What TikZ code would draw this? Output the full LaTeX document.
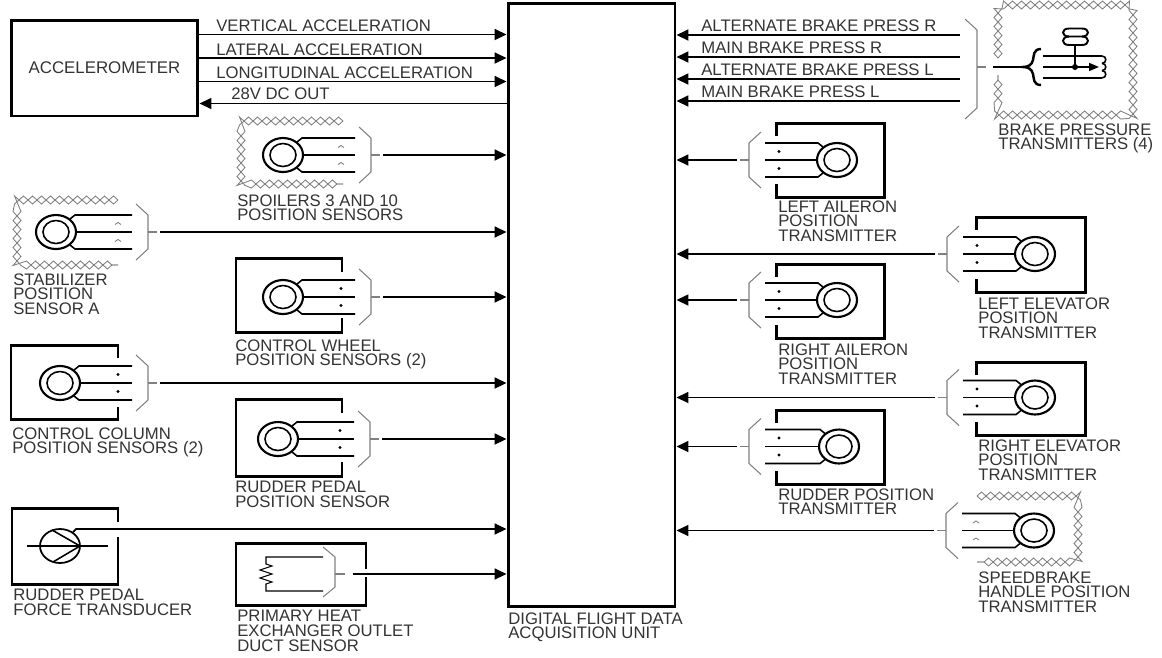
\documentclass[tikz,border=0pt]{standalone}
\usepackage{fontspec}
\setmainfont{Liberation Sans}
\usetikzlibrary{arrows.meta,decorations.pathmorphing}
\tikzset{
  lbl/.style={anchor=north west,inner sep=0pt,align=left,text=black!80,font=\fontsize{9.5}{8.5}\selectfont},
  sig/.style={line width=1pt,-{Triangle[length=0.24cm,width=0.22cm]}},
  wire/.style={line width=0.9pt},
  encl/.style={line width=1.7pt},
  brk/.style={gray,line width=0.6pt},
  chain/.style={
    postaction={draw=gray,line width=0.5pt,decorate,decoration={zigzag,segment length=0.36cm,amplitude=0.08cm}},
    postaction={draw=gray,line width=0.5pt,decorate,decoration={zigzag,segment length=0.36cm,amplitude=0.08cm,mirror}}},
  pics/sensor/.style={code={
    \draw[line width=1.2pt] (0,0) ellipse (20 and 17);
    \draw[line width=0.9pt] (0,0) ellipse (13 and 11.5);
    \draw[wire] (14,-13) -- (19,-17) -- (72+#1,-17);
    \draw[wire] (20,0) -- (72+#1,0);
    \draw[wire] (14,13) -- (19,17) -- (72+#1,17);
    \draw[brk] (76+#1,-28) -- (88+#1,-17) -- (88+#1,17) -- (76+#1,28);
    \draw[brk] (88+#1,0) -- (97+#1,0);
    \coordinate (-end) at (100+#1,0);
  }},
  pics/dots/.style={code={
    \fill (58+#1,-8.5) circle (1.7);
    \fill (58+#1,8.5) circle (1.7);
  }},
  pics/hats/.style={code={
    \draw[gray,line width=0.5pt] (55+#1,-7.5) -- (58+#1,-9.5) -- (61+#1,-7.5);
    \draw[gray,line width=0.5pt] (55+#1,9.5) -- (58+#1,7.5) -- (61+#1,9.5);
  }}
}
\begin{document}
\begin{tikzpicture}[x=0.02cm,y=-0.02cm]
  \useasboundingbox (0,0) rectangle (1162,657);

  % main blocks
  \node[draw,encl,minimum width=3.34cm,minimum height=12.08cm,inner sep=0pt] (unit) at (591.5,305) {};
  \node[draw,encl,minimum width=3.74cm,minimum height=1.92cm,inner sep=0pt,text=black!80,font=\fontsize{9.6}{8.5}\selectfont] (acc) at (104.5,68) {ACCELEROMETER};
  \node[lbl] (unitlbl) at (508,612) {DIGITAL FLIGHT DATA\\ACQUISITION UNIT};

  % accelerometer lines
  \foreach \name/\y/\bl/\txt in {vert/34.5/19/VERTICAL ACCELERATION,lat/58/43/LATERAL ACCELERATION,lon/81.5/66/LONGITUDINAL ACCELERATION}{
    \coordinate (\name) at (198,\y);
    \draw[sig] (\name) -- (\name -| unit.west);
    \node[lbl] (\name lbl) at (216,\bl) {\txt};
  }
  \coordinate (dc) at (508,103.5);
  \draw[sig] (dc) -- (dc -| acc.east);
  \node[lbl] (dclbl) at (231,87) {28V DC OUT};

  % brake lines
  \foreach \name/\y/\bl/\txt in {altr/35/19/ALTERNATE BRAKE PRESS R,mainr/57/41/MAIN BRAKE PRESS R,altl/79/63/ALTERNATE BRAKE PRESS L,mainl/101/85/MAIN BRAKE PRESS L}{
    \coordinate (\name) at (960,\y);
    \draw[sig] (\name) -- (\name -| unit.east);
    \node[lbl] (\name lbl) at (701,\bl) {\txt};
  }
  \draw[brk] (965,19) -- (977,30) -- (977,108) -- (965,119);
  \draw[brk] (977,67) -- (986,67);
  \coordinate (bra) at (993,67);
  \coordinate (brb) at (1023,67);
  \draw[wire] (bra) -- (brb);
  \draw[line width=1.4pt] (1041,49) .. controls (1033,49) and (1034,56) .. (1033,60) .. controls (1032,65) and (1028,67) .. (brb) .. controls (1028,67) and (1032,69) .. (1033,74) .. controls (1034,78) and (1033,85) .. (1041,85);
  \draw[wire] (1043,56) -- (1102,56);
  \draw[wire] (1043,78) -- (1102,78);
  \draw[wire,-{Triangle[length=0.2cm,width=0.16cm]}] (1043,67) -- (1099,67);
  \foreach \y in {56,63.3,70.6}
    \draw[wire] (1102,\y) .. controls (1107,\y) and (1107,\y+7.3) .. (1102,\y+7.3);
  \fill (1075,67) circle (3);
  \draw[wire] (1075,45) -- (1075,67);
  \draw[line width=1.1pt] (1069,28.5) -- (1082,28.5) .. controls (1090,28.5) and (1090,36.5) .. (1082,36.5) -- (1069,36.5) .. controls (1061,36.5) and (1061,28.5) .. (1069,28.5);
  \draw[line width=1.1pt] (1069,36.5) .. controls (1061,36.5) and (1061,45) .. (1069,45) -- (1082,45) .. controls (1090,45) and (1090,36.5) .. (1082,36.5);
  \path[chain] (998,58) -- (998,5) -- (1133,5) -- (1133,115) -- (998,115) -- (998,75);
  \node[lbl] (brakelbl) at (998,123) {BRAKE PRESSURE\\TRANSMITTERS (4)};

  % left side sensors
  \pic (spoil) at (283,155) {sensor=0};
  \pic at (283,155) {hats=0};
  \path[chain] (343,121) -- (241,121) -- (241,184) -- (343,184);
  \draw[sig] (spoil-end) -- (spoil-end -| unit.west);
  \node[lbl] (spoillbl) at (237,194) {SPOILERS 3 AND 10\\POSITION SENSORS};

  \pic (stab) at (56,232) {sensor=4};
  \pic at (56,232) {hats=4};
  \path[chain] (118,200) -- (17,200) -- (17,265) -- (118,265);
  \draw[sig] (stab-end) -- (stab-end -| unit.west);
  \node[lbl] (stablbl) at (13,273) {STABILIZER\\POSITION\\SENSOR A};

  \pic (wheel) at (283,297) {sensor=0};
  \pic at (283,297) {dots=0};
  \draw[encl] (342,272) -- (342,258) -- (236,258) -- (236,332) -- (342,332) -- (342,318);
  \draw[sig] (wheel-end) -- (wheel-end -| unit.west);
  \node[lbl] (wheellbl) at (235,339) {CONTROL WHEEL\\POSITION SENSORS (2)};

  \pic (column) at (60,383) {sensor=0};
  \pic at (60,383) {dots=0};
  \draw[encl] (118,358) -- (118,345) -- (11,345) -- (11,419) -- (118,419) -- (118,407);
  \draw[sig] (column-end) -- (column-end -| unit.west);
  \node[lbl] (columnlbl) at (12,427) {CONTROL COLUMN\\POSITION SENSORS (2)};

  \pic (pedal) at (278,439) {sensor=4};
  \pic at (278,439) {dots=4};
  \draw[encl] (342,413) -- (342,399) -- (236,399) -- (236,476) -- (342,476) -- (342,462);
  \draw[sig] (pedal-end) -- (pedal-end -| unit.west);
  \node[lbl] (pedallbl) at (235,481) {RUDDER PEDAL\\POSITION SENSOR};

  % force transducer
  \draw[encl] (118,522) -- (118,508) -- (12,508) -- (12,584) -- (118,584) -- (118,537);
  \draw[line width=1pt] (60,546) ellipse (20 and 17);
  \draw[wire] (27,546) -- (108,546);
  \draw[wire] (52,530) -- (80,546) -- (53,562);
  \coordinate (ftb) at (73,532);
  \coordinate (fta) at (76,529);
  \draw[sig] (ftb) -- (fta) -- (fta -| unit.west);
  \node[lbl] (forcelbl) at (13,589) {RUDDER PEDAL\\FORCE TRANSDUCER};

  % heat exchanger duct sensor
  \draw[encl] (366,569) -- (366,543) -- (236,543) -- (236,605) -- (366,605) -- (366,577);
  \draw[line width=0.6pt] (323,557) -- (266,557) -- (266,564) -- (272,566) -- (260,570) -- (272,574) -- (260,578) -- (272,582) -- (266,584) -- (266,591) -- (323,591);
  \draw[brk] (323,547) -- (335,557) -- (335,587) -- (323,597);
  \draw[brk] (335,574) -- (345,574);
  \coordinate (duct) at (353,574);
  \draw[sig] (duct) -- (duct -| unit.west);
  \node[lbl] (ductlbl) at (237,610) {PRIMARY HEAT\\EXCHANGER OUTLET\\DUCT SENSOR};

  % right side transmitters
  \pic (lail) [xscale=-1] at (837,160) {sensor=0};
  \pic[xscale=-1] at (837,160) {dots=0};
  \draw[encl] (776,136) -- (776,123) -- (884,123) -- (884,197) -- (776,197) -- (776,184);
  \draw[sig] (lail-end) -- (lail-end -| unit.east);
  \node[lbl] (laillbl) at (778,200) {LEFT AILERON\\POSITION\\TRANSMITTER};

  \pic (lelev) [xscale=-1] at (1035,254) {sensor=0};
  \pic[xscale=-1] at (1035,254) {dots=0};
  \draw[encl] (976,230) -- (976,217) -- (1085,217) -- (1085,292) -- (976,292) -- (976,279);
  \draw[sig] (lelev-end) -- (lelev-end -| unit.east);
  \node[lbl] (lelevlbl) at (978,297) {LEFT ELEVATOR\\POSITION\\TRANSMITTER};

  \pic (rail) [xscale=-1] at (837,300) {sensor=0};
  \pic[xscale=-1] at (837,300) {dots=0};
  \draw[encl] (776,277) -- (776,264) -- (884,264) -- (884,338) -- (776,338) -- (776,325);
  \draw[sig] (rail-end) -- (rail-end -| unit.east);
  \node[lbl] (raillbl) at (778,343) {RIGHT AILERON\\POSITION\\TRANSMITTER};

  \pic (relev) [xscale=-1] at (1035,397.5) {sensor=0};
  \pic[xscale=-1] at (1035,397.5) {dots=0};
  \draw[encl] (976,375) -- (976,362) -- (1085,362) -- (1085,435) -- (976,435) -- (976,422);
  \draw[sig] (relev-end) -- (relev-end -| unit.east);
  \node[lbl] (relevlbl) at (978,439) {RIGHT ELEVATOR\\POSITION\\TRANSMITTER};

  \pic (rudder) [xscale=-1] at (839,446.5) {sensor=2};
  \pic[xscale=-1] at (839,446.5) {dots=2};
  \draw[encl] (776,423) -- (776,410) -- (884,410) -- (884,484) -- (776,484) -- (776,471);
  \draw[sig] (rudder-end) -- (rudder-end -| unit.east);
  \node[lbl] (rudderlbl) at (778,488) {RUDDER POSITION\\TRANSMITTER};

  \pic (speed) [xscale=-1] at (1034,530.5) {sensor=0};
  \pic[xscale=-1] at (1034,530.5) {hats=0};
  \path[chain] (977,496) -- (1078,496) -- (1078,562) -- (977,562);
  \draw[sig] (speed-end) -- (speed-end -| unit.east);
  \node[lbl] (speedlbl) at (978,571) {SPEEDBRAKE\\HANDLE POSITION\\TRANSMITTER};
\end{tikzpicture}
\end{document}
